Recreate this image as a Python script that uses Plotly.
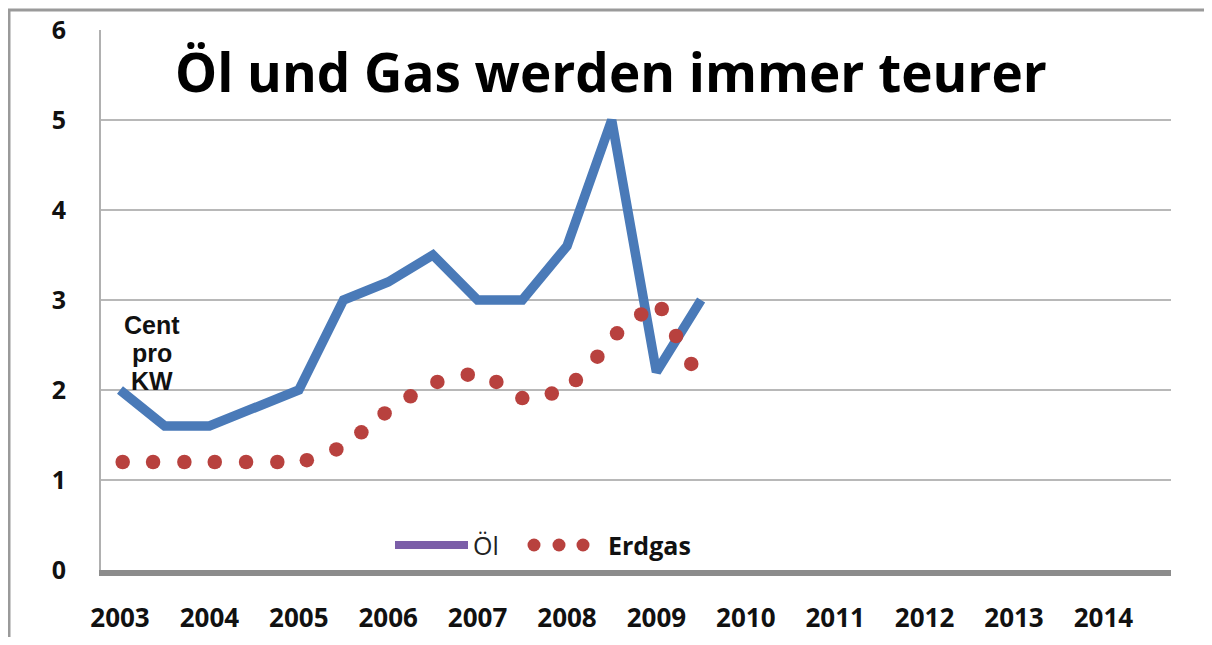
import plotly.graph_objects as go

# ---- data ----
oil_years = [2003.0, 2003.5, 2004.0, 2004.5, 2005.0, 2005.5, 2006.0, 2006.5,
             2007.0, 2007.5, 2008.0, 2008.5, 2009.0, 2009.5]
oil_values = [2.0, 1.6, 1.6, 1.8, 2.0, 3.0, 3.2, 3.5, 3.0, 3.0, 3.6, 5.0, 2.2, 3.0]

gas_years = [2003.03, 2003.37, 2003.72, 2004.06, 2004.41, 2004.76, 2005.09, 2005.42,
             2005.70, 2005.96, 2006.25, 2006.55, 2006.89, 2007.21, 2007.50, 2007.83,
             2008.10, 2008.34, 2008.56, 2008.83, 2009.06, 2009.22, 2009.39]
gas_values = [1.2, 1.2, 1.2, 1.2, 1.2, 1.2, 1.22, 1.34, 1.53, 1.74, 1.93, 2.09,
              2.17, 2.09, 1.91, 1.96, 2.11, 2.37, 2.63, 2.84, 2.9, 2.6, 2.29]

year_ticks = list(range(2003, 2015))
year_labels = [str(y) for y in year_ticks]
y_ticks = [0, 1, 2, 3, 4, 5, 6]

title_text = "Öl und Gas werden immer teurer"
unit_lines = ["Cent", "pro", "KW"]
legend_oil = "Öl"
legend_gas = "Erdgas"

# ---- layout geometry (pixels) ----
OFF = 8  # page body margin
W, H = 1212 - OFF, 645 - 2 * OFF
L, R, T = 93, 41, 22
B = H - (570 - OFF)
PW, PH = W - L - R, H - T - B


def px(x):
    return (x - OFF - L) / PW


def py(y):
    return (H - B - (y - OFF)) / PH


FONT = "Open Sans"
BLUE = "#4a7ab8"
RED = "#b8413e"
CLEAR = "rgba(0,0,0,0)"

fig = go.Figure()
fig.add_trace(go.Scatter(x=oil_years, y=oil_values, mode="lines", name=legend_oil,
                         line=dict(color=BLUE, width=9.5), showlegend=False))
fig.add_trace(go.Scatter(x=gas_years, y=gas_values, mode="markers", name=legend_gas,
                         marker=dict(color=RED, size=14.5, line=dict(width=0)),
                         showlegend=False))

shapes = []
# frame (top + left)
shapes.append(dict(type="line", xref="paper", yref="paper", x0=px(8), x1=px(1212 + 5),
                   y0=py(10), y1=py(10), line=dict(color="#9a9a9a", width=3)))
shapes.append(dict(type="line", xref="paper", yref="paper", x0=px(9), x1=px(9),
                   y0=py(10), y1=py(650), line=dict(color="#9a9a9a", width=3)))
# legend line
shapes.append(dict(type="line", xref="paper", yref="paper", x0=px(395), x1=px(468),
                   y0=py(545), y1=py(545), line=dict(color="#7b5ea8", width=8)))
# legend dots
for cx in (534, 559, 583):
    r = 6.5
    shapes.append(dict(type="circle", xref="paper", yref="paper",
                       x0=px(cx - r), x1=px(cx + r), y0=py(545 + r), y1=py(545 - r),
                       fillcolor=RED, line=dict(width=0)))

annotations = []
annotations.append(dict(xref="paper", yref="paper", x=px(471), y=py(545), text=legend_oil,
                        showarrow=False, xanchor="left", yanchor="middle",
                        font=dict(family=FONT, size=25, color="#222222")))
annotations.append(dict(xref="paper", yref="paper", x=px(606), y=py(545), text=legend_gas,
                        showarrow=False, xanchor="left", yanchor="middle",
                        font=dict(family=FONT, size=25, color="#111111", weight="bold")))
for i, t in enumerate(unit_lines):
    annotations.append(dict(xref="paper", yref="paper", x=px(152), y=py(325 + 28 * i),
                            text=t, showarrow=False, xanchor="center", yanchor="middle",
                            font=dict(family="Liberation Sans", size=25, color="#111111",
                                      weight="bold")))
annotations.append(dict(xref="paper", yref="paper", x=px(611), y=py(72), text=title_text,
                        showarrow=False, xanchor="center", yanchor="middle",
                        font=dict(family=FONT, size=53, color="#000000", weight="bold")))

fig.update_layout(
    width=W, height=H,
    margin=dict(l=L, r=R, t=T, b=B, pad=0),
    paper_bgcolor="white", plot_bgcolor="white",
    showlegend=False,
    modebar=dict(bgcolor=CLEAR, color=CLEAR, activecolor=CLEAR),
    shapes=shapes, annotations=annotations,
    xaxis=dict(range=[2003 - 19 / 89.4, 2003 + 1051 / 89.4], tickvals=year_ticks,
               ticktext=year_labels, showgrid=False, zeroline=False, automargin=False,
               showline=True, linecolor="#8c8c8c", linewidth=6, ticks="",
               ticklabelstandoff=20,
               tickfont=dict(family=FONT, size=26, color="#111111", weight="bold")),
    yaxis=dict(range=[0, 6], tickvals=y_ticks, showgrid=True, gridcolor="#b8b8b8",
               gridwidth=2, zeroline=False, showline=True, linecolor="#b0b0b0",
               linewidth=2, ticks="", ticklabelstandoff=28, automargin=False,
               tickfont=dict(family=FONT, size=25, color="#111111", weight="bold")),
)

fig.write_html("out.html")
